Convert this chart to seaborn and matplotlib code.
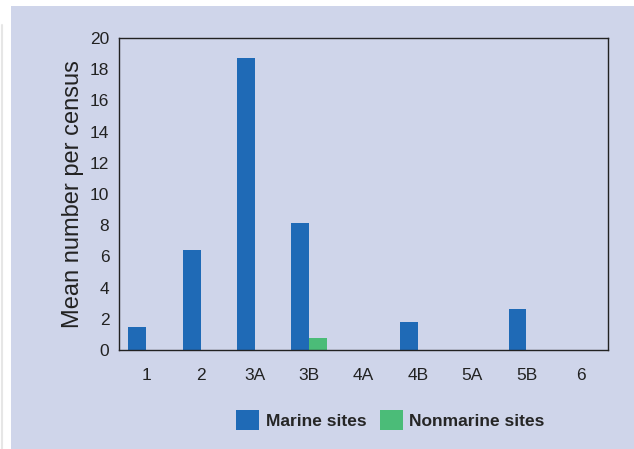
import matplotlib
matplotlib.use("Agg")
import matplotlib.pyplot as plt
import seaborn as sns
import pandas as pd
from matplotlib.patches import Rectangle
from matplotlib.lines import Line2D

categories = ["1", "2", "3A", "3B", "4A", "4B", "5A", "5B", "6"]
marine = [1.5, 6.4, 18.7, 8.15, 0, 1.8, 0, 2.6, 0]
nonmarine = [0, 0, 0, 0.8, 0, 0, 0, 0, 0]
series = ["Marine sites", "Nonmarine sites"]

df = pd.DataFrame({
    "cat": categories * 2,
    "val": marine + nonmarine,
    "series": [series[0]] * len(categories) + [series[1]] * len(categories),
})

bg = "#CFD5EA"
blue = "#1F6AB6"
green = "#4BBC78"

sns.set_style("white")
plt.rcParams["font.family"] = ["Liberation Sans", "DejaVu Sans"]

fig = plt.figure(figsize=(6.34, 4.49), dpi=100)
fig.patch.set_facecolor("white")
fig.patches.append(Rectangle((11 / 634, 0), 1, 1 - 6 / 449, transform=fig.transFigure,
                             facecolor=bg, edgecolor="none", zorder=-10))
fig.lines.append(Line2D([1.5 / 634, 1.5 / 634], [0, 1 - 25 / 449], transform=fig.transFigure,
                        color="#E6E6E6", lw=1.5))

ax = fig.add_axes([119 / 634, 1 - 350 / 449, (608 - 119) / 634, (350 - 38) / 449])
ax.set_facecolor(bg)

sns.barplot(data=df, x="cat", y="val", hue="series", order=categories,
            hue_order=series, palette=[blue, green], width=0.66,
            saturation=1, ax=ax, legend=False, linewidth=0)

ax.set_xlim(-0.5, 8.5)
ax.set_ylim(0, 20)
ax.set_yticks(range(0, 21, 2))
ax.set_xticks(range(len(categories)))
ax.set_xticklabels(categories)
ax.set_xticks([i - 0.5 for i in range(len(categories) + 1)], minor=True)
ax.tick_params(axis="x", which="major", length=0, pad=13, labelsize=12.5, colors="#222222")
ax.tick_params(axis="x", which="minor", length=10, direction="inout", width=1, color="#222222")
ax.tick_params(axis="y", which="major", length=10, direction="inout", width=1,
               labelsize=12.5, colors="#222222", pad=2)
ax.set_xlabel("")
ax.set_ylabel("Mean number per census", fontsize=17, color="#222222", labelpad=4)

for s in ax.spines.values():
    s.set_visible(True)
    s.set_color("#222222")
    s.set_linewidth(1)

handles = [Rectangle((0, 0), 1, 1, facecolor=blue, edgecolor="none", linewidth=0),
           Rectangle((0, 0), 1, 1, facecolor=green, edgecolor="none", linewidth=0)]
fig.legend(handles, series, loc="center", bbox_to_anchor=(390.5 / 634, 1 - 420 / 449),
           ncol=2, frameon=False, prop={"weight": "bold", "size": 12.5},
           handlelength=1.32, handleheight=1.32, handletextpad=0.4, columnspacing=0.75)

fig.savefig("out.png", dpi=100, facecolor=fig.get_facecolor())
